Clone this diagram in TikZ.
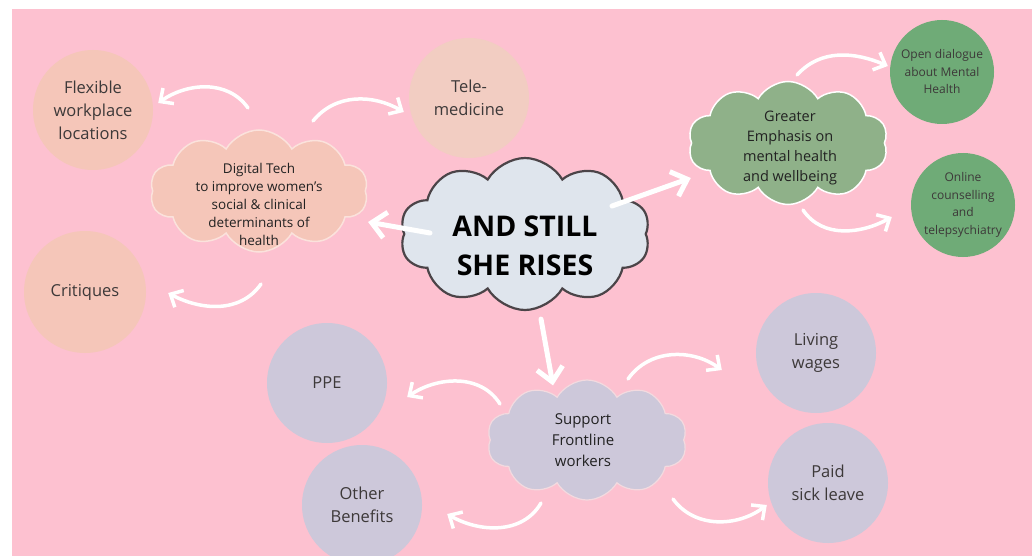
\documentclass[tikz,border=0pt]{standalone}
\usepackage{fontspec}
\setmainfont{Open Sans}
\usetikzlibrary{shapes.symbols, arrows.meta, positioning}

\definecolor{bgpink}{HTML}{FDC1D0}
\definecolor{peach}{HTML}{F5C6B9}
\definecolor{palepeach}{HTML}{F2CDC2}
\definecolor{peachline}{HTML}{FBE2DC}
\definecolor{skyfill}{HTML}{DFE5ED}
\definecolor{skyline}{HTML}{4B4448}
\definecolor{sage}{HTML}{8FB189}
\definecolor{leaf}{HTML}{6FAB77}
\definecolor{lilac}{HTML}{CDC8DA}
\definecolor{lilacline}{HTML}{F3DADF}
\definecolor{inktext}{HTML}{222222}
\definecolor{softtext}{HTML}{3D3939}

\begin{document}
\begin{tikzpicture}[x=1pt, y=1pt,
  puff/.style={cloud, cloud puffs=10, cloud puff arc=120, cloud ignores aspect, inner sep=0pt},
  bubble/.style={circle, inner sep=0pt, minimum size=120pt, text=softtext, align=center, font=\fontsize{16.5}{23}\selectfont},
  smallbubble/.style={bubble, minimum size=104pt, font=\fontsize{12}{17.5}\selectfont},
  cloudtext/.style={align=center, text=inktext, inner sep=0pt},
  bigarrow/.style={draw=white, line width=5pt, line cap=round, -{Straight Barb[length=14pt, width=26pt]}},
  bendarrow/.style={draw=white, line width=3.5pt, line cap=round, -{Straight Barb[length=10pt, width=19pt]}}
]

%page and background
\useasboundingbox (0,0) rectangle (1032,-556);
\clip (0,0) rectangle (1032,-556);
\fill[white] (0,0) rectangle (1032,-556);
\fill[bgpink] (12,-9) rectangle (1032,-556);

%outer bubbles
\node[bubble, fill=peach] (flex) at (93,-110) {Flexible\\workplace\\locations};
\node[bubble, fill=palepeach] (tele) at (469,-98) {Tele-\\medicine};
\node[bubble, fill=peach, minimum size=122pt] (crit) at (85,-292) {Critiques};
\node[smallbubble, fill=leaf] (open) at (942,-72) {Open dialogue\\about Mental\\Health};
\node[smallbubble, fill=leaf] (online) at (963,-205) {Online\\counselling\\and\\telepsychiatry};
\node[bubble, fill=lilac] (ppe) at (327,-383) {PPE};
\node[bubble, fill=lilac] (other) at (362,-505) {Other\\Benefits};
\node[bubble, fill=lilac] (living) at (816,-353) {Living\\wages};
\node[bubble, fill=lilac] (paid) at (828,-483) {Paid\\sick leave};

%clouds
\node[puff, fill=skyfill, draw=skyline, line width=2.2pt, minimum width=250pt, minimum height=152pt] (rise) at (525,-234) {};
\node[cloudtext, text=black, font=\bfseries\fontsize{28.5}{39}\selectfont] (riseText) at ([yshift=-12pt]rise.center) {AND STILL\\SHE RISES};

\node[puff, fill=peach, draw=peachline, line width=1.5pt, minimum width=218pt, minimum height=122pt] (dig) at (259,-191) {};
\node[cloudtext, font=\fontsize{13.5}{18}\selectfont] (digText) at ([yshift=-13pt]dig.center) {Digital Tech\\to improve women’s\\social \& clinical\\determinants of\\health};

\node[puff, fill=sage, draw=white, line width=1.5pt, minimum width=200pt, minimum height=123pt] (calm) at (788,-143) {};
\node[cloudtext, font=\fontsize{14.5}{20}\selectfont] (calmText) at ([xshift=2pt,yshift=-5pt]calm.center) {Greater\\Emphasis on\\mental health\\and wellbeing};

\node[puff, fill=lilac, draw=lilacline, line width=1.2pt, minimum width=200pt, minimum height=120pt] (sup) at (587,-440) {};
\node[cloudtext, font=\fontsize{15}{21}\selectfont] (supText) at ([xshift=-4pt]sup.center) {Support\\Frontline\\workers};

%main arrows
\draw[bigarrow] ([shift={(-95,1)}]rise.center) -- ([shift={(2,-31)}]dig.east);
\draw[bigarrow] ([shift={(87,28)}]rise.center) -- ([shift={(0,-35)}]calm.west);
\draw[bigarrow] ([shift={(16,-8)}]rise.south) -- ([shift={(-34,-6)}]sup.north);

%bent arrows to the bubbles
\draw[bendarrow] ([shift={(-11,83)}]dig.center) to[out=125, in=35] ([shift={(5,7)}]flex.east);
\draw[bendarrow] ([shift={(54,70)}]dig.center) to[out=51, in=150] ([shift={(-5,-14)}]tele.west);
\draw[bendarrow] ([shift={(2,-93)}]dig.center) to[out=235, in=-28] ([shift={(22,-1)}]crit.east);
\draw[bendarrow] ([shift={(9,68)}]calm.center) to[out=48, in=157] ([shift={(-2,6)}]open.west);
\draw[bendarrow] ([shift={(15,-67)}]calm.center) to[out=-56, in=209] ([shift={(-19,-12)}]online.west);
\draw[bendarrow] ([shift={(41,61)}]sup.center) to[out=55, in=144] ([shift={(-34,-17)}]living.west);
\draw[bendarrow] ([shift={(86,-59)}]sup.center) to[out=-54, in=217] ([shift={(-1,-22)}]paid.west);
\draw[bendarrow] ([shift={(-87,36)}]sup.center) to[out=122, in=34] ([shift={(20,-14)}]ppe.east);
\draw[bendarrow] ([shift={(-46,-63)}]sup.center) to[out=240, in=-30] ([shift={(25,-9)}]other.east);

\end{tikzpicture}
\end{document}
